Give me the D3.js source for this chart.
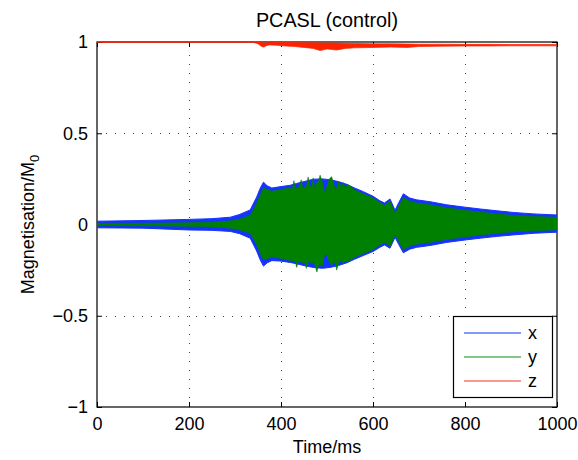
<!DOCTYPE html>
<html>
<head>
<meta charset="utf-8">
<script src="https://cdn.jsdelivr.net/npm/d3@7"></script>
<style>
  body { margin: 0; background: #fff; }
  text { font-family: "Liberation Sans", Arial, sans-serif; fill: #000; }
</style>
</head>
<body>
<div id="chart"></div>
<script>
// envelopes of the dense oscillating components
var tX = [0, 100, 200, 250, 290, 310, 333, 347, 355, 362, 370, 380, 398, 420, 434, 450, 470, 490, 507, 525, 543, 560, 579, 600, 615, 625, 637, 648, 656, 666, 680, 695, 724, 760, 800, 833, 870, 905, 950, 1000];
var xUp = [0.018, 0.022, 0.028, 0.032, 0.04, 0.055, 0.08, 0.15, 0.2, 0.232, 0.212, 0.2, 0.207, 0.215, 0.225, 0.235, 0.248, 0.25, 0.245, 0.235, 0.22, 0.2, 0.18, 0.155, 0.13, 0.118, 0.14, 0.078, 0.12, 0.168, 0.145, 0.135, 0.125, 0.108, 0.095, 0.085, 0.075, 0.066, 0.058, 0.052];
var xLo = [-0.018, -0.02, -0.03, -0.032, -0.038, -0.05, -0.075, -0.145, -0.195, -0.228, -0.21, -0.198, -0.2, -0.208, -0.215, -0.225, -0.235, -0.24, -0.235, -0.225, -0.21, -0.19, -0.17, -0.148, -0.125, -0.112, -0.13, -0.07, -0.11, -0.155, -0.135, -0.125, -0.115, -0.098, -0.085, -0.075, -0.065, -0.057, -0.048, -0.042];

var tY = [0, 100, 200, 250, 290, 310, 333, 347, 355, 362, 380, 398, 415, 425, 428, 431, 434, 438, 444, 447, 452, 455, 459, 462, 467, 470, 473, 478, 482, 485, 490, 495, 500, 505, 510, 515, 519, 521, 525, 530, 535, 540, 545, 560, 579, 600, 615, 625, 637, 648, 656, 666, 680, 695, 724, 760, 800, 833, 870, 905, 950, 1000];
var yUp = [0.006, 0.007, 0.01, 0.013, 0.02, 0.03, 0.05, 0.115, 0.165, 0.2, 0.182, 0.19, 0.2, 0.195, 0.24, 0.2, 0.2, 0.2, 0.245, 0.2, 0.205, 0.205, 0.26, 0.21, 0.205, 0.255, 0.2, 0.23, 0.24, 0.27, 0.23, 0.17, 0.21, 0.25, 0.262, 0.22, 0.19, 0.2, 0.235, 0.21, 0.23, 0.2, 0.22, 0.19, 0.168, 0.145, 0.12, 0.105, 0.128, 0.062, 0.1, 0.148, 0.128, 0.118, 0.108, 0.092, 0.078, 0.068, 0.058, 0.05, 0.044, 0.04];
var yLo = [-0.006, -0.007, -0.01, -0.013, -0.02, -0.03, -0.048, -0.11, -0.16, -0.195, -0.178, -0.185, -0.195, -0.2, -0.2, -0.2, -0.235, -0.2, -0.205, -0.21, -0.21, -0.24, -0.205, -0.205, -0.21, -0.21, -0.215, -0.26, -0.22, -0.22, -0.23, -0.16, -0.17, -0.205, -0.225, -0.2, -0.22, -0.25, -0.21, -0.2, -0.21, -0.2, -0.205, -0.18, -0.16, -0.137, -0.112, -0.098, -0.12, -0.055, -0.092, -0.138, -0.118, -0.108, -0.098, -0.082, -0.068, -0.058, -0.048, -0.04, -0.034, -0.03];

var tZ = [0, 340, 350, 358, 363, 368, 375, 390, 410, 430, 450, 470, 485, 500, 521, 540, 560, 600, 640, 674, 700, 750, 800, 850, 900, 950, 1000];
var zUp = [1, 1, 1, 0.998, 0.995, 0.995, 0.998, 0.998, 0.997, 0.997, 0.996, 0.996, 0.995, 0.995, 0.994, 0.993, 0.992, 0.99, 0.99, 0.989, 0.988, 0.988, 0.987, 0.987, 0.986, 0.986, 0.986];
var zLo = [0.998, 0.998, 0.99, 0.975, 0.972, 0.98, 0.984, 0.982, 0.978, 0.975, 0.97, 0.965, 0.953, 0.962, 0.956, 0.965, 0.968, 0.97, 0.972, 0.97, 0.975, 0.977, 0.978, 0.978, 0.979, 0.979, 0.979];

var xTicks = [0, 200, 400, 600, 800, 1000];
var yTicks = [-1, -0.5, 0, 0.5, 1];
var yTickLabels = ["\u22121", "\u22120.5", "0", "0.5", "1"];
var seriesNames = ["x", "y", "z"];
var seriesColors = ["#1533ff", "#008000", "#ff2200"];
var legendColors = ["#5a78f0", "#5fb05f", "#f57a68"];

var width = 578, height = 460;
var mLeft = 97, mRight = 557, mTop = 42, mBottom = 407;

var x = d3.scaleLinear().domain([0, 1000]).range([mLeft, mRight]);
var y = d3.scaleLinear().domain([-1, 1]).range([mBottom, mTop]);

var svg = d3.select("#chart").append("svg")
    .attr("width", width)
    .attr("height", height);

svg.append("defs").append("clipPath").attr("id", "clip")
    .append("rect")
    .attr("x", mLeft).attr("y", mTop - 1)
    .attr("width", mRight - mLeft).attr("height", mBottom - mTop + 1);

// grid
var grid = svg.append("g").attr("stroke", "#444").attr("stroke-width", 1)
    .attr("stroke-dasharray", "1,8");
grid.selectAll(".gx").data(xTicks.slice(1, -1)).enter().append("line")
    .attr("x1", d => Math.round(x(d)) + 0.5).attr("x2", d => Math.round(x(d)) + 0.5)
    .attr("y1", mBottom).attr("y2", mTop);
grid.selectAll(".gy").data(yTicks.slice(1, -1)).enter().append("line")
    .attr("y1", d => Math.round(y(d)) + 0.5).attr("y2", d => Math.round(y(d)) + 0.5)
    .attr("x1", mLeft).attr("x2", mRight);

// axes, ticks inward on all four sides
var xAxis = d3.axisBottom(x).tickValues(xTicks).tickSize(-5).tickPadding(10)
    .tickFormat(d3.format("d"));
var yAxis = d3.axisLeft(y).tickValues(yTicks).tickSize(-5).tickPadding(9)
    .tickFormat((d, i) => yTickLabels[i]);

svg.append("g").attr("transform", "translate(0," + mBottom + ")").call(xAxis)
    .call(g => g.selectAll("text").style("font-size", "18px"));
svg.append("g").attr("transform", "translate(" + mLeft + ",0)").call(yAxis)
    .call(g => g.selectAll("text").style("font-size", "18px"));
svg.append("g").attr("transform", "translate(0," + mTop + ")")
    .call(d3.axisTop(x).tickValues(xTicks).tickSize(-5).tickFormat(""));
svg.append("g").attr("transform", "translate(" + mRight + ",0)")
    .call(d3.axisRight(y).tickValues(yTicks).tickSize(-5).tickFormat(""));
svg.selectAll(".domain").remove();
svg.selectAll(".tick line").attr("stroke", "#000");

svg.append("rect")
    .attr("x", mLeft).attr("y", mTop)
    .attr("width", mRight - mLeft).attr("height", mBottom - mTop)
    .attr("fill", "none").attr("stroke", "#000").attr("stroke-width", 1.2);

// data
var plot = svg.append("g").attr("clip-path", "url(#clip)");
var series = [
  {t: tX, up: xUp, lo: xLo},
  {t: tY, up: yUp, lo: yLo},
  {t: tZ, up: zUp, lo: zLo}
];
series.forEach(function(s, k) {
    var pts = s.t.map((t, i) => ({t: t, up: s.up[i], lo: s.lo[i]}));
    var area = d3.area()
        .x(d => x(d.t))
        .y0(d => y(d.lo))
        .y1(d => y(d.up));
    plot.append("path")
        .datum(pts)
        .attr("d", area)
        .attr("fill", seriesColors[k])
        .attr("stroke", seriesColors[k])
        .attr("stroke-opacity", k == 2 ? 0.7 : 1)
        .attr("stroke-width", k == 1 ? 0.6 : 1);
});

// title and labels
svg.append("text")
    .attr("x", (mLeft + mRight) / 2).attr("y", 27)
    .attr("text-anchor", "middle").style("font-size", "19.8px")
    .text("PCASL (control)");

svg.append("text")
    .attr("x", (mLeft + mRight) / 2).attr("y", 453)
    .attr("text-anchor", "middle").style("font-size", "18px")
    .text("Time/ms");

var ylab = svg.append("text")
    .attr("transform", "translate(34," + ((mTop + mBottom) / 2) + ") rotate(-90)")
    .attr("text-anchor", "middle").style("font-size", "18px");
ylab.append("tspan").text("Magnetisation/M");
ylab.append("tspan").attr("dy", 5).style("font-size", "13px").text("0");

// legend
var lg = svg.append("g");
lg.append("rect")
    .attr("x", 453.5).attr("y", 316.5)
    .attr("width", 99).attr("height", 81)
    .attr("fill", "#fff").attr("stroke", "#000").attr("stroke-width", 1.2);
seriesNames.forEach(function(name, i) {
    var ly = 333 + i * 24;
    lg.append("line")
        .attr("x1", 464).attr("x2", 521)
        .attr("y1", ly).attr("y2", ly)
        .attr("stroke", legendColors[i]).attr("stroke-width", 1.3);
    lg.append("text")
        .attr("x", 528).attr("y", ly + 6)
        .style("font-size", "18px")
        .text(name);
});
</script>
</body>
</html>
